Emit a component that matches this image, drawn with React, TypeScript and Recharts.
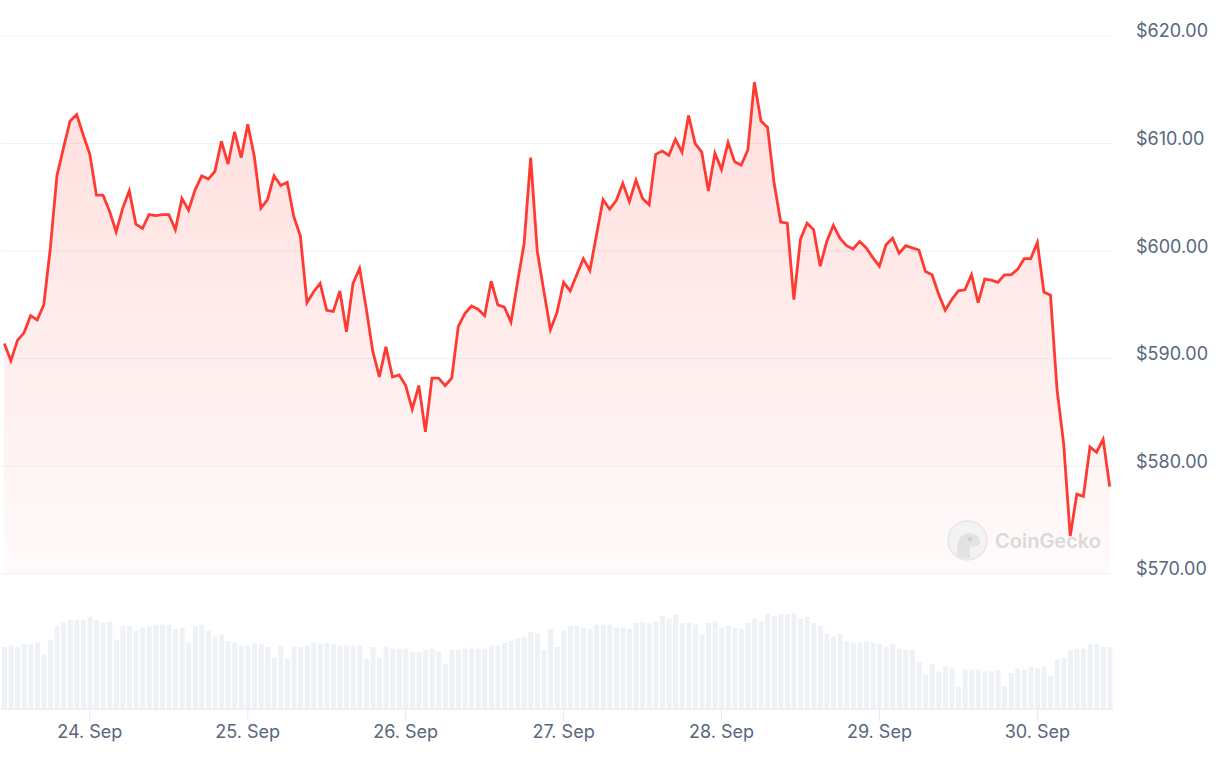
import { Area, Bar, CartesianGrid, ComposedChart, XAxis, YAxis } from "recharts";

// hourly closes, 23 Sep 11:00 -> 30 Sep 11:00 (USD)
const prices = [
  591.4, 589.8, 591.7, 592.4, 594.0, 593.6, 595.0, 600.3, 607.0, 609.6,
  612.1, 612.7, 610.8, 609.0, 605.2, 605.2, 603.7, 601.8, 604.0, 605.6,
  602.5, 602.1, 603.4, 603.3, 603.4, 603.4, 602.0, 604.9, 603.8, 605.7,
  607.0, 606.7, 607.4, 610.2, 608.1, 611.1, 608.7, 611.8, 608.8, 604.0,
  604.8, 607.0, 606.1, 606.4, 603.2, 601.4, 595.2, 596.2, 597.0, 594.5,
  594.4, 596.3, 592.5, 597.0, 598.4, 594.7, 590.7, 588.3, 591.1, 588.3,
  588.5, 587.5, 585.3, 587.5, 583.2, 588.2, 588.2, 587.5, 588.2, 593.0,
  594.2, 594.9, 594.6, 594.0, 597.2, 595.0, 594.8, 593.4, 597.1, 600.7,
  608.7, 600.0, 596.3, 592.7, 594.3, 597.1, 596.3, 597.8, 599.3, 598.2,
  601.5, 604.8, 603.9, 604.7, 606.3, 604.6, 606.6, 604.9, 604.3, 609.0,
  609.3, 608.9, 610.4, 609.2, 612.6, 610.0, 609.2, 605.6, 609.1, 607.6,
  610.1, 608.3, 608.0, 609.4, 615.7, 612.1, 611.5, 606.3, 602.7, 602.6,
  595.5, 601.1, 602.6, 602.0, 598.6, 600.9, 602.4, 601.2, 600.5, 600.2,
  600.9, 600.3, 599.4, 598.6, 600.6, 601.2, 599.8, 600.5, 600.3, 600.1,
  598.1, 597.8, 596.0, 594.5, 595.5, 596.3, 596.4, 597.8, 595.2, 597.4,
  597.3, 597.1, 597.8, 597.8, 598.3, 599.3, 599.3, 600.8, 596.2, 595.9,
  587.1, 582.1, 573.5, 577.4, 577.2, 581.8, 581.3, 582.5, 578.1,
];

// hourly volume (relative units)
const volumes = [
  186, 190, 186, 195, 195, 199, 163, 208, 249, 258,
  267, 267, 267, 276, 267, 258, 262, 208, 249, 249,
  235, 244, 249, 253, 253, 253, 240, 244, 199, 249,
  253, 235, 217, 222, 204, 199, 190, 190, 199, 195,
  186, 154, 190, 150, 186, 186, 190, 199, 195, 199,
  195, 190, 190, 190, 190, 150, 186, 154, 186, 181,
  181, 181, 172, 172, 177, 181, 172, 136, 177, 177,
  181, 181, 181, 181, 190, 190, 199, 204, 213, 217,
  231, 226, 177, 240, 186, 235, 249, 249, 244, 240,
  253, 253, 253, 244, 244, 240, 258, 262, 258, 262,
  280, 271, 285, 258, 258, 253, 222, 258, 262, 244,
  249, 244, 240, 258, 271, 262, 285, 280, 285, 285,
  289, 271, 276, 258, 249, 226, 217, 226, 204, 199,
  199, 204, 199, 195, 186, 195, 181, 177, 177, 140,
  104, 136, 113, 127, 122, 68, 118, 118, 118, 113,
  113, 118, 68, 108, 122, 118, 127, 122, 127, 100,
  149, 154, 177, 181, 181, 195, 195, 186, 186,
];

const dayLabels = ["24. Sep", "25. Sep", "26. Sep", "27. Sep", "28. Sep", "29. Sep", "30. Sep"];
const firstMidnight = 13; // 24 Sep 00:00 is the 14th hourly point
const priceTicks = [570, 580, 590, 600, 610, 620];

const data = prices.map((price, i) => ({ hour: i, price, volume: volumes[i] }));
const dayTicks = dayLabels.map((_, k) => firstMidnight + 24 * k);

const labelColor = "#58667e";
const font = "Inter, 'Noto Sans', sans-serif";

function PriceTick({ x, y, payload }: any) {
  return (
    <text x={x} y={y - 5} dy="0.355em" textAnchor="start" fill={labelColor} fontSize={18} fontFamily={font}>
      ${Number(payload.value).toFixed(2)}
    </text>
  );
}

function DayTick({ x, y, payload }: any) {
  const k = dayTicks.indexOf(payload.value);
  return (
    <text x={x} y={y} dy="0.71em" textAnchor="middle" fill={labelColor} fontSize={18} fontFamily={font}>
      {dayLabels[k]}
    </text>
  );
}

export default function App() {
  return (
    <div style={{ position: "absolute", left: 0, top: 0, width: 1216, height: 762, background: "#fff" }}>
      <ComposedChart width={1216} height={762} data={data} margin={{ top: 36, right: 0, bottom: 13, left: 1 }}>
        <defs>
          <linearGradient id="priceFill" gradientUnits="userSpaceOnUse" x1="0" y1="36" x2="0" y2="574">
            <stop offset="0%" stopColor="#ff3a33" stopOpacity={0.3} />
            <stop offset="100%" stopColor="#ff3a33" stopOpacity={0.04} />
          </linearGradient>
        </defs>
        <CartesianGrid vertical={false} stroke="#eef1f5" yAxisId="price" />
        <XAxis
          dataKey="hour"
          type="category"
          ticks={dayTicks}
          interval={0}
          height={40}
          axisLine={{ stroke: "#e6e9ee" }}
          tickLine={{ stroke: "#e6e9ee" }}
          tickSize={12}
          tickMargin={4}
          tick={<DayTick />}
        />
        <YAxis
          yAxisId="price"
          orientation="right"
          type="number"
          domain={[557.43, 620]}
          ticks={priceTicks}
          allowDataOverflow
          axisLine={false}
          tickLine={false}
          tickSize={0}
          tickMargin={23}
          width={103}
          tick={<PriceTick />}
        />
        <YAxis yAxisId="vol" hide domain={[0, 2020]} />
        <Bar yAxisId="vol" dataKey="volume" fill="#eef1f5" barSize={5} isAnimationActive={false} />
        <Area
          yAxisId="price"
          type="linear"
          dataKey="price"
          baseValue={570}
          stroke="#ff3a33"
          strokeWidth={2.8}
          fill="url(#priceFill)"
          dot={false}
          activeDot={false}
          isAnimationActive={false}
        />
      </ComposedChart>
      <div
        style={{
          position: "absolute",
          left: 947,
          top: 520,
          display: "flex",
          alignItems: "center",
          gap: 7,
          fontFamily: font,
          fontWeight: 600,
          fontSize: 20,
          color: "#d9d9d9",
          pointerEvents: "none",
        }}
      >
        <svg width={41} height={41} viewBox="0 0 41 41">
          <circle cx={20.5} cy={20.5} r={19.5} fill="#f3f3f3" stroke="#e6e6e6" strokeWidth={1.5} />
          <path d="M10 36 C9 22 13 13 22 13 C29 13 33 17 33 22 C33 26 28 27 24 26 C22 30 22 34 24 38 C19 39 14 38 10 36 Z" fill="#e2e2e2" />
          <circle cx={23} cy={19} r={2.2} fill="#cfcfcf" />
        </svg>
        <span>CoinGecko</span>
      </div>
    </div>
  );
}
